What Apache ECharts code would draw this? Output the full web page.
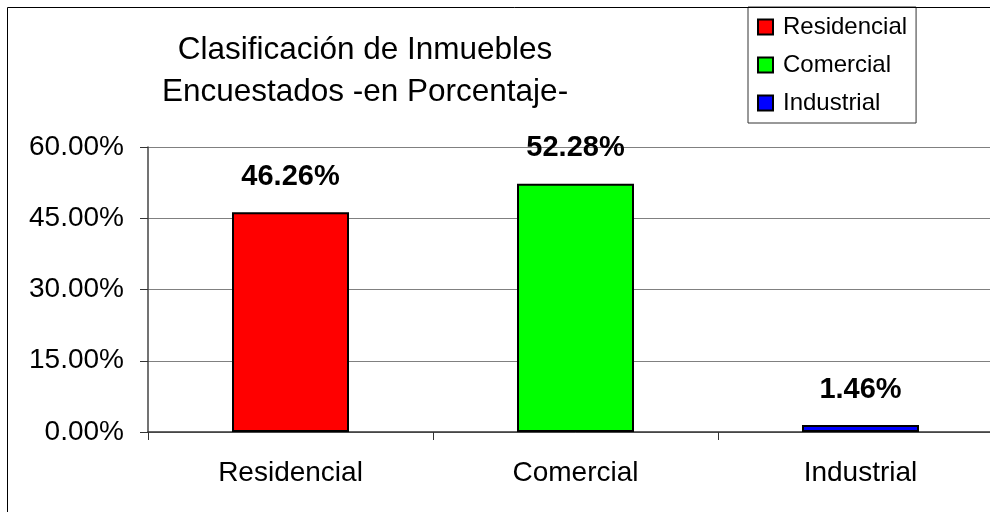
<!DOCTYPE html>
<html>
<head>
    <meta charset="UTF-8">
    <title></title>
    <script src="https://cdn.jsdelivr.net/npm/echarts@6/dist/echarts.min.js"></script>
    <style type="text/css">
        html, body { margin: 0; padding: 0; background: #fff; overflow: hidden; }
        /* the plot runs past the right edge of the picture, so the canvas is wider than the window */
        #chart { width: 1020px; height: 512px; }
    </style>
</head>
<body>
<div id="chart"></div>
<script type="text/javascript">
    var categories = ['Residencial', 'Comercial', 'Industrial'];
    var values = [46.26, 52.28, 1.46];
    var colors = ['#ff0000', '#00ff00', '#0000ff'];
    var yTicks = [0, 15, 30, 45, 60];

    var chart = echarts.init(document.getElementById('chart'));

    // one series per category so the legend gets three entries
    var series = [];
    for (var i = 0; i < categories.length; i++) {
        var data = [];
        for (var j = 0; j < categories.length; j++) {
            data.push(i == j ? values[j] : '-');
        }
        series.push({
            name: categories[i],
            type: 'bar',
            data: data,
            barWidth: 117,
            barGap: '-100%',
            itemStyle: { color: colors[i], borderColor: '#000', borderWidth: 2 },
            label: {
                show: true,
                position: 'top',
                distance: 21,
                fontFamily: 'Liberation Sans',
                fontSize: 29,
                fontWeight: 'bold',
                color: '#000',
                formatter: function (p) { return p.value.toFixed(2) + '%'; }
            }
        });
    }

    chart.setOption({
        animation: false,
        title: {
            text: 'Clasificación de Inmuebles\nEncuestados -en Porcentaje-',
            left: 360,
            top: 24,
            textAlign: 'center',
            textStyle: {
                fontFamily: 'Liberation Sans',
                fontSize: 31.5,
                fontWeight: 'normal',
                color: '#000',
                lineHeight: 42
            }
        },
        legend: {
            orient: 'vertical',
            left: 748,
            top: 7,
            padding: [8, 9, 8, 9],
            itemGap: 14,
            itemWidth: 15,
            itemHeight: 15,
            borderColor: '#333',
            borderWidth: 1,
            icon: 'rect',
            data: categories,
            itemStyle: { borderColor: '#000', borderWidth: 2 },
            textStyle: {
                fontFamily: 'Liberation Sans',
                fontSize: 24,
                lineHeight: 24,
                color: '#000',
                padding: [0, 0, 0, 5]
            }
        },
        grid: {
            left: 148,
            width: 855,
            top: 147,
            height: 285,
            containLabel: false
        },
        xAxis: {
            type: 'category',
            data: categories,
            axisLine: { lineStyle: { color: '#333', width: 1.5 } },
            axisTick: { show: true, length: 8, lineStyle: { color: '#333' } },
            axisLabel: {
                margin: 27,
                fontFamily: 'Liberation Sans',
                fontSize: 28,
                color: '#000'
            }
        },
        yAxis: {
            type: 'value',
            min: yTicks[0],
            max: yTicks[yTicks.length - 1],
            interval: 15,
            axisLine: { show: true, lineStyle: { color: '#444', width: 1.5 } },
            axisTick: { show: true, length: 8, lineStyle: { color: '#333' } },
            splitLine: { lineStyle: { color: '#808080', width: 1 } },
            axisLabel: {
                margin: 24,
                fontFamily: 'Liberation Sans',
                fontSize: 28,
                color: '#000',
                formatter: function (v) { return v.toFixed(2) + '%'; }
            }
        },
        graphic: [{
            type: 'rect',
            silent: true,
            z: 100,
            shape: { x: 7.5, y: 7.5, width: 1100, height: 1100 },
            style: { fill: 'none', stroke: '#000', lineWidth: 1 }
        }],
        series: series
    });
</script>
</body>
</html>
